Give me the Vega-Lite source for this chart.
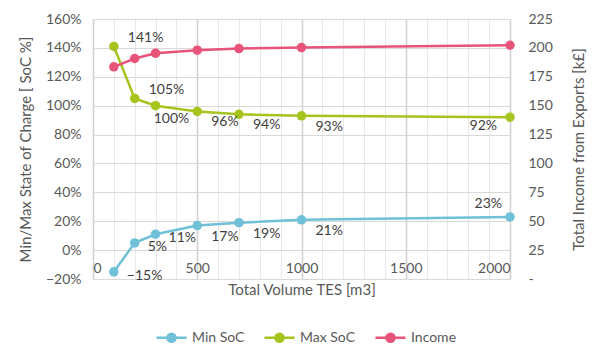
{
  "$schema": "https://vega.github.io/schema/vega-lite/v6.json",
  "width": 417,
  "height": 260,
  "autosize": {"type": "none"},
  "padding": {"left": 93, "top": 19, "right": 90, "bottom": 82},
  "background": "white",
  "config": {
    "font": "Lato",
    "view": {"stroke": null},
    "axis": {"labelFont": "Lato", "titleFont": "Lato", "labelColor": "#595959", "titleColor": "#595959", "labelFontSize": 14, "titleFontSize": 15, "titleFontWeight": "normal", "ticks": false, "domain": false},
    "legend": {"labelFont": "Lato", "labelFontSize": 14, "labelColor": "#595959"}
  },
  "data": {
    "values": [
      {"tes": 100, "series": "Min SoC", "value": -0.15},
      {"tes": 200, "series": "Min SoC", "value": 0.05},
      {"tes": 300, "series": "Min SoC", "value": 0.11},
      {"tes": 500, "series": "Min SoC", "value": 0.17},
      {"tes": 700, "series": "Min SoC", "value": 0.19},
      {"tes": 1000, "series": "Min SoC", "value": 0.21},
      {"tes": 2000, "series": "Min SoC", "value": 0.23},
      {"tes": 100, "series": "Max SoC", "value": 1.41},
      {"tes": 200, "series": "Max SoC", "value": 1.05},
      {"tes": 300, "series": "Max SoC", "value": 1.00},
      {"tes": 500, "series": "Max SoC", "value": 0.96},
      {"tes": 700, "series": "Max SoC", "value": 0.94},
      {"tes": 1000, "series": "Max SoC", "value": 0.93},
      {"tes": 2000, "series": "Max SoC", "value": 0.92},
      {"tes": 100, "series": "Income", "value": 183.6},
      {"tes": 200, "series": "Income", "value": 190.8},
      {"tes": 300, "series": "Income", "value": 195.4},
      {"tes": 500, "series": "Income", "value": 198.0},
      {"tes": 700, "series": "Income", "value": 199.4},
      {"tes": 1000, "series": "Income", "value": 200.3},
      {"tes": 2000, "series": "Income", "value": 202.3}
    ]
  },
  "encoding": {
    "x": {
      "field": "tes", "type": "quantitative",
      "scale": {"domain": [0, 2000], "nice": false},
      "axis": {
        "title": "Total Volume TES [m3]",
        "values": [0,100,200,300,400,500,600,700,800,900,1000,1100,1200,1300,1400,1500,1600,1700,1800,1900,2000],
        "format": "d",
        "labelExpr": "datum.value % 500 === 0 ? datum.label : ''",
        "offset": -29,
        "labelPadding": 11,
        "titlePadding": 7,
        "grid": true,
        "gridColor": {"condition": {"test": "datum.value % 500 === 0", "value": "#d0d0d0"}, "value": "#e8e8e8"},
        "gridWidth": {"condition": {"test": "datum.value % 500 === 0", "value": 1.5}, "value": 1}
      }
    },
    "color": {
      "field": "series", "type": "nominal",
      "scale": {"domain": ["Min SoC", "Max SoC", "Income"], "range": ["#70C0D8", "#A5C41E", "#E8537A"]},
      "legend": {
        "title": null, "orient": "none", "direction": "horizontal",
        "legendX": 62, "legendY": 302,
        "symbolType": "M-1,0H1M-0.27,0A0.27,0.27 0 1,1 0.27,0A0.27,0.27 0 1,1 -0.27,0Z",
        "symbolSize": 900, "symbolStrokeWidth": 2.5, "labelOffset": 4, "columnPadding": 14
      }
    }
  },
  "layer": [
    {
      "transform": [{"filter": "datum.series !== 'Income'"}],
      "encoding": {
        "y": {
          "field": "value", "type": "quantitative",
          "scale": {"domain": [-0.2, 1.6], "nice": false},
          "axis": {
            "orient": "left", "title": "Min/Max State of Charge [ SoC %]",
            "values": [-0.2,0,0.2,0.4,0.6,0.8,1.0,1.2,1.4,1.6],
            "format": ".0%", "grid": true, "gridColor": "#d9d9d9", "labelPadding": 12, "titlePadding": 12
          }
        }
      },
      "layer": [
        {"mark": {"type": "line", "strokeWidth": 2.5}},
        {"mark": {"type": "point", "filled": true, "size": 90, "opacity": 1}},
        {
          "transform": [{"filter": "datum.series === 'Max SoC' && datum.tes <= 200"}],
          "mark": {"type": "text", "align": "left", "baseline": "middle", "dx": 14, "dy": -8, "fontSize": 14},
          "encoding": {"text": {"field": "value", "format": ".0%"}, "color": {"value": "#404040"}}
        },
        {
          "transform": [{"filter": "datum.series === 'Max SoC' && datum.tes === 300"}],
          "mark": {"type": "text", "align": "center", "baseline": "middle", "dx": 16, "dy": 13, "fontSize": 14},
          "encoding": {"text": {"field": "value", "format": ".0%"}, "color": {"value": "#404040"}}
        },
        {
          "transform": [{"filter": "datum.series === 'Max SoC' && datum.tes >= 500 && datum.tes <= 1000"}],
          "mark": {"type": "text", "align": "left", "baseline": "middle", "dx": 14, "dy": 11, "fontSize": 14},
          "encoding": {"text": {"field": "value", "format": ".0%"}, "color": {"value": "#404040"}}
        },
        {
          "transform": [{"filter": "datum.series === 'Max SoC' && datum.tes === 2000"}],
          "mark": {"type": "text", "align": "right", "baseline": "middle", "dx": -13, "dy": 9, "fontSize": 14},
          "encoding": {"text": {"field": "value", "format": ".0%"}, "color": {"value": "#404040"}}
        },
        {
          "transform": [{"filter": "datum.series === 'Min SoC' && datum.tes <= 300"}],
          "mark": {"type": "text", "align": "left", "baseline": "middle", "dx": 13, "dy": 4, "fontSize": 14},
          "encoding": {"text": {"field": "value", "format": ".0%"}, "color": {"value": "#404040"}}
        },
        {
          "transform": [{"filter": "datum.series === 'Min SoC' && datum.tes >= 500 && datum.tes <= 1000"}],
          "mark": {"type": "text", "align": "left", "baseline": "middle", "dx": 14, "dy": 11, "fontSize": 14},
          "encoding": {"text": {"field": "value", "format": ".0%"}, "color": {"value": "#404040"}}
        },
        {
          "transform": [{"filter": "datum.series === 'Min SoC' && datum.tes === 2000"}],
          "mark": {"type": "text", "align": "right", "baseline": "middle", "dx": -8, "dy": -13, "fontSize": 14},
          "encoding": {"text": {"field": "value", "format": ".0%"}, "color": {"value": "#404040"}}
        }
      ]
    },
    {
      "transform": [{"filter": "datum.series === 'Income'"}],
      "encoding": {
        "y": {
          "field": "value", "type": "quantitative",
          "scale": {"domain": [0, 225], "nice": false},
          "axis": {
            "orient": "right", "title": "Total Income from Exports [k£]",
            "values": [0,25,50,75,100,125,150,175,200,225],
            "labelExpr": "datum.value === 0 ? '-' : datum.label",
            "grid": false, "labelPadding": 18, "titlePadding": 34, "titleAngle": 270
          }
        }
      },
      "layer": [
        {"mark": {"type": "line", "strokeWidth": 2.5}},
        {"mark": {"type": "point", "filled": true, "size": 90, "opacity": 1}}
      ]
    }
  ],
  "resolve": {"scale": {"y": "independent"}}
}
